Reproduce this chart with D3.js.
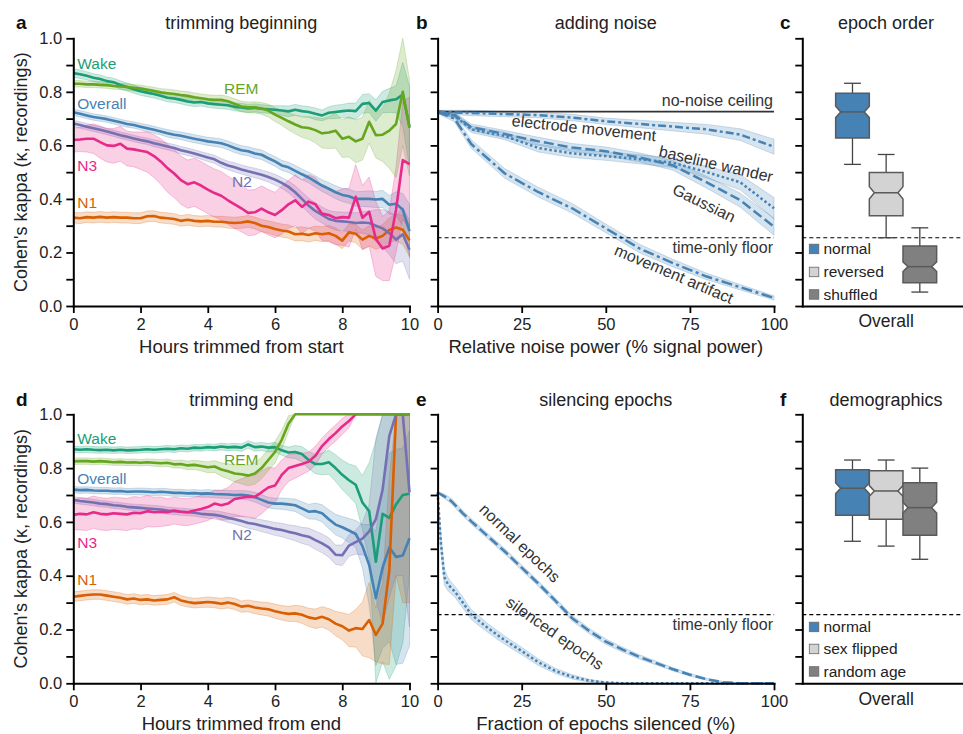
<!DOCTYPE html>
<html><head><meta charset="utf-8">
<script src="https://cdn.jsdelivr.net/npm/d3@7"></script>
<style>body{margin:0;background:#fff}svg{display:block}</style>
</head><body><svg id="c" width="963" height="734"></svg>
<script>
// ---------------- DATA ----------------
const hours = [0,0.2,0.4,0.6,0.8,1,1.2,1.4,1.6,1.8,2,2.2,2.4,2.6,2.8,3,3.2,3.4,3.6,3.8,4,4.2,4.4,4.6,4.8,5,5.2,5.4,5.6,5.8,6,6.2,6.4,6.6,6.8,7,7.2,7.4,7.6,7.8,8,8.2,8.4,8.6,8.8,9,9.2,9.4,9.6,9.8,10];
const yTicks = [0,0.1,0.2,0.3,0.4,0.5,0.6,0.7,0.8,0.9,1.0];
const hourTicks = [0,2,4,6,8,10];
const pctTicks = [0,25,50,75,100];
const stageNames = ["Overall","Wake","N1","N2","N3","REM"];
const stageColors = ["#4682b4","#1b9e77","#d95f02","#7570b3","#e7298a","#66a61e"];

// panel a: trimming beginning
const aOverall = [0.724,0.718,0.712,0.706,0.702,0.698,0.692,0.686,0.680,0.676, 0.670,0.664,0.658,0.652,0.645,0.640,0.636,0.630,0.625,0.620, 0.615,0.612,0.608,0.600,0.590,0.582,0.578,0.570,0.565,0.552, 0.540,0.525,0.518,0.505,0.492,0.480,0.465,0.450,0.438,0.425, 0.415,0.410,0.400,0.400,0.400,0.398,0.400,0.378,0.382,0.360, 0.280];
const aOverallCI = [0.012,0.012,0.012,0.012,0.012,0.012,0.012,0.012,0.012,0.012, 0.012,0.013,0.013,0.013,0.014,0.014,0.014,0.015,0.015,0.015, 0.015,0.016,0.016,0.016,0.017,0.017,0.017,0.018,0.018,0.018, 0.018,0.019,0.019,0.020,0.020,0.020,0.021,0.022,0.023,0.024, 0.025,0.026,0.027,0.028,0.030,0.030,0.032,0.035,0.045,0.060, 0.100];
const aWake = [0.870,0.866,0.860,0.853,0.848,0.840,0.836,0.826,0.818,0.810, 0.802,0.797,0.792,0.785,0.778,0.775,0.770,0.764,0.760,0.762, 0.757,0.754,0.752,0.750,0.744,0.742,0.738,0.740,0.737,0.735, 0.733,0.730,0.727,0.733,0.728,0.725,0.718,0.712,0.722,0.725, 0.728,0.730,0.728,0.755,0.758,0.730,0.762,0.768,0.772,0.790, 0.670];
const aWakeCI = [0.016,0.016,0.015,0.015,0.015,0.015,0.015,0.015,0.015,0.015, 0.015,0.015,0.015,0.015,0.015,0.015,0.015,0.015,0.015,0.015, 0.015,0.015,0.015,0.015,0.015,0.015,0.015,0.015,0.015,0.015, 0.015,0.018,0.020,0.020,0.020,0.020,0.022,0.020,0.022,0.025, 0.025,0.028,0.030,0.035,0.035,0.040,0.040,0.045,0.050,0.120, 0.150];
const aN1 = [0.330,0.328,0.332,0.330,0.333,0.330,0.332,0.330,0.330,0.328, 0.328,0.335,0.336,0.330,0.328,0.325,0.318,0.322,0.318,0.316, 0.318,0.315,0.315,0.312,0.310,0.312,0.316,0.310,0.300,0.295, 0.288,0.282,0.278,0.268,0.270,0.265,0.272,0.268,0.272,0.262, 0.244,0.275,0.270,0.248,0.262,0.252,0.262,0.284,0.293,0.285, 0.245];
const aN1CI = [0.020,0.020,0.020,0.020,0.020,0.020,0.020,0.020,0.020,0.020, 0.020,0.020,0.020,0.020,0.020,0.020,0.020,0.020,0.020,0.020, 0.020,0.020,0.020,0.021,0.021,0.022,0.022,0.022,0.023,0.023, 0.024,0.024,0.025,0.025,0.026,0.026,0.027,0.028,0.029,0.030, 0.030,0.032,0.034,0.036,0.038,0.040,0.042,0.045,0.050,0.055, 0.060];
const aN2 = [0.682,0.676,0.670,0.664,0.658,0.652,0.645,0.638,0.632,0.626, 0.620,0.615,0.608,0.602,0.596,0.590,0.582,0.576,0.570,0.562, 0.555,0.548,0.535,0.525,0.518,0.510,0.503,0.497,0.490,0.482, 0.472,0.460,0.445,0.425,0.400,0.375,0.355,0.340,0.325,0.318, 0.316,0.314,0.310,0.312,0.310,0.300,0.290,0.272,0.248,0.268, 0.210];
const aN2CI = [0.012,0.012,0.012,0.012,0.012,0.012,0.012,0.012,0.012,0.012, 0.012,0.012,0.013,0.013,0.013,0.013,0.014,0.014,0.014,0.014, 0.015,0.015,0.016,0.016,0.017,0.017,0.017,0.018,0.018,0.019, 0.020,0.020,0.022,0.024,0.026,0.028,0.030,0.030,0.032,0.034, 0.035,0.036,0.038,0.040,0.045,0.060,0.070,0.080,0.090,0.100, 0.110];
const aN3 = [0.620,0.622,0.625,0.625,0.612,0.600,0.598,0.606,0.588,0.585, 0.580,0.575,0.560,0.540,0.515,0.495,0.470,0.455,0.462,0.450, 0.435,0.422,0.412,0.395,0.380,0.365,0.348,0.350,0.364,0.350, 0.340,0.358,0.380,0.395,0.370,0.390,0.380,0.345,0.340,0.328, 0.332,0.330,0.408,0.330,0.352,0.250,0.215,0.225,0.360,0.545, 0.530];
const aN3CI = [0.045,0.045,0.050,0.055,0.060,0.062,0.065,0.065,0.065,0.065, 0.070,0.075,0.080,0.085,0.090,0.090,0.090,0.090,0.090,0.090, 0.090,0.090,0.090,0.090,0.090,0.088,0.085,0.085,0.085,0.085, 0.085,0.090,0.090,0.095,0.100,0.100,0.100,0.100,0.100,0.100, 0.105,0.110,0.120,0.120,0.130,0.140,0.120,0.130,0.160,0.220, 0.250];
const aRem = [0.830,0.830,0.828,0.828,0.826,0.825,0.822,0.820,0.818,0.815, 0.812,0.808,0.803,0.798,0.795,0.792,0.788,0.785,0.780,0.776, 0.772,0.770,0.770,0.765,0.755,0.745,0.742,0.742,0.738,0.730, 0.715,0.703,0.690,0.678,0.668,0.665,0.657,0.645,0.648,0.655, 0.625,0.632,0.615,0.625,0.688,0.638,0.640,0.655,0.680,0.800, 0.665];
const aRemCI = [0.012,0.012,0.012,0.012,0.012,0.012,0.012,0.012,0.012,0.012, 0.013,0.013,0.014,0.014,0.015,0.015,0.015,0.016,0.016,0.016, 0.017,0.017,0.018,0.018,0.019,0.020,0.020,0.021,0.022,0.024, 0.026,0.028,0.032,0.035,0.038,0.042,0.048,0.055,0.060,0.065, 0.070,0.075,0.080,0.080,0.080,0.085,0.100,0.140,0.200,0.200, 0.180];

// panel d: trimming end
const dOverall = [0.720,0.718,0.719,0.717,0.716,0.716,0.714,0.715,0.712,0.713, 0.713,0.712,0.710,0.712,0.710,0.708,0.708,0.706,0.707,0.705, 0.706,0.704,0.703,0.702,0.700,0.701,0.698,0.692,0.682,0.672, 0.668,0.668,0.665,0.662,0.650,0.638,0.640,0.632,0.610,0.590, 0.580,0.568,0.555,0.510,0.440,0.316,0.430,0.505,0.470,0.475, 0.539];
const dOverallCI = [0.012,0.012,0.012,0.012,0.012,0.012,0.012,0.012,0.012,0.012, 0.013,0.013,0.013,0.013,0.013,0.013,0.013,0.013,0.013,0.013, 0.014,0.014,0.015,0.015,0.016,0.016,0.017,0.018,0.019,0.020, 0.020,0.021,0.022,0.023,0.025,0.027,0.030,0.032,0.035,0.038, 0.040,0.045,0.050,0.080,0.150,0.250,0.300,0.350,0.400,0.400, 0.400];
const dWake = [0.870,0.868,0.870,0.868,0.867,0.868,0.866,0.868,0.866,0.867, 0.868,0.870,0.868,0.870,0.872,0.870,0.874,0.872,0.876,0.875, 0.878,0.876,0.880,0.877,0.879,0.876,0.888,0.878,0.880,0.876, 0.878,0.866,0.858,0.860,0.852,0.830,0.815,0.815,0.822,0.800, 0.775,0.755,0.738,0.672,0.640,0.452,0.630,0.615,0.665,0.700, 0.705];
const dWakeCI = [0.012,0.012,0.012,0.012,0.012,0.012,0.012,0.012,0.012,0.012, 0.012,0.012,0.012,0.012,0.012,0.012,0.012,0.012,0.012,0.012, 0.012,0.012,0.013,0.013,0.013,0.014,0.014,0.015,0.015,0.016, 0.017,0.018,0.020,0.024,0.028,0.032,0.036,0.040,0.045,0.050, 0.055,0.060,0.070,0.100,0.180,0.450,0.550,0.600,0.600,0.550, 0.300];
const dN1 = [0.322,0.325,0.328,0.330,0.330,0.326,0.322,0.318,0.312,0.315, 0.310,0.312,0.308,0.310,0.312,0.320,0.308,0.302,0.298,0.300, 0.302,0.300,0.296,0.300,0.295,0.285,0.288,0.282,0.278,0.275, 0.268,0.262,0.258,0.260,0.255,0.245,0.240,0.247,0.238,0.222, 0.212,0.196,0.205,0.202,0.235,0.180,0.222,0.420,1.000,1.000, 1.000];
const dN1CI = [0.018,0.018,0.018,0.018,0.018,0.018,0.018,0.018,0.018,0.018, 0.018,0.018,0.018,0.018,0.018,0.018,0.018,0.018,0.018,0.018, 0.019,0.019,0.020,0.020,0.021,0.021,0.022,0.023,0.024,0.025, 0.026,0.027,0.028,0.030,0.032,0.034,0.036,0.038,0.040,0.045, 0.050,0.060,0.070,0.100,0.140,0.100,0.150,0.350,0.600,0.700, 0.700];
const dN2 = [0.682,0.678,0.675,0.672,0.668,0.666,0.662,0.660,0.656,0.654, 0.652,0.650,0.648,0.646,0.642,0.640,0.638,0.636,0.634,0.630, 0.628,0.626,0.622,0.615,0.610,0.603,0.596,0.592,0.586,0.580, 0.574,0.570,0.563,0.558,0.550,0.545,0.532,0.520,0.505,0.478, 0.476,0.512,0.525,0.538,0.565,0.610,0.720,0.920,1.000,1.000, 0.710];
const dN2CI = [0.012,0.012,0.012,0.012,0.012,0.012,0.012,0.012,0.012,0.012, 0.013,0.013,0.013,0.013,0.013,0.013,0.013,0.013,0.013,0.013, 0.014,0.015,0.016,0.017,0.018,0.019,0.020,0.021,0.022,0.023, 0.024,0.025,0.026,0.028,0.030,0.032,0.034,0.035,0.036,0.036, 0.038,0.040,0.045,0.060,0.100,0.300,0.500,0.600,0.600,0.600, 0.500];
const dN3 = [0.626,0.630,0.628,0.636,0.630,0.628,0.632,0.630,0.628,0.634, 0.632,0.640,0.636,0.638,0.636,0.642,0.638,0.636,0.642,0.648, 0.655,0.668,0.662,0.668,0.685,0.690,0.694,0.693,0.710,0.728, 0.735,0.775,0.800,0.808,0.815,0.824,0.846,0.882,0.908,0.930, 0.955,0.975,1.000,1.000,1.000,1.000,1.000,1.000,1.000,1.000, 1.000];
const dN3CI = [0.055,0.060,0.060,0.060,0.060,0.060,0.060,0.060,0.060,0.060, 0.060,0.058,0.055,0.055,0.050,0.050,0.050,0.050,0.050,0.050, 0.050,0.050,0.055,0.060,0.065,0.070,0.075,0.080,0.080,0.075, 0.065,0.055,0.050,0.045,0.040,0.035,0.035,0.030,0.030,0.030, 0.030,0.025,0,0,0,0,0,0,0,0, 0];
const dRem = [0.825,0.826,0.826,0.824,0.826,0.824,0.822,0.823,0.821,0.822, 0.820,0.822,0.820,0.818,0.820,0.814,0.815,0.810,0.812,0.808, 0.803,0.806,0.795,0.788,0.780,0.777,0.772,0.780,0.800,0.830, 0.860,0.905,0.965,1.000,1.000,1.000,1.000,1.000,1.000,1.000, 1.000,1.000,1.000,1.000,1.000,1.000,1.000,1.000,1.000,1.000, 1.000];
const dRemCI = [0.012,0.012,0.012,0.012,0.012,0.012,0.012,0.012,0.012,0.012, 0.012,0.012,0.013,0.013,0.014,0.014,0.015,0.016,0.017,0.018, 0.020,0.022,0.025,0.028,0.032,0.035,0.038,0.040,0.040,0.040, 0.040,0.035,0.030,0,0,0,0,0,0,0, 0,0,0,0,0,0,0,0,0,0, 0];

// panel b: adding noise
const noisePct = [0,5,10,20,30,40,50,60,70,80,90,100];
const electrodeMove = [0.725,0.723,0.721,0.717,0.713,0.704,0.690,0.680,0.670,0.660,0.640,0.595];
const electrodeMoveCI = [0.006,0.008,0.010,0.010,0.010,0.012,0.012,0.014,0.016,0.018,0.022,0.028];
const baselineWander = [0.725,0.712,0.660,0.635,0.590,0.570,0.560,0.548,0.535,0.500,0.462,0.365];
const baselineWanderCI = [0.006,0.010,0.012,0.014,0.015,0.015,0.016,0.017,0.018,0.022,0.028,0.040];
const gaussianNoise = [0.725,0.713,0.668,0.642,0.615,0.592,0.578,0.555,0.525,0.462,0.395,0.296];
const gaussianNoiseCI = [0.006,0.010,0.012,0.014,0.015,0.015,0.016,0.017,0.018,0.022,0.026,0.032];
const movementArtifact = [0.725,0.700,0.605,0.495,0.425,0.365,0.290,0.215,0.160,0.110,0.070,0.030];
const movementArtifactCI = [0.006,0.012,0.016,0.018,0.018,0.018,0.016,0.016,0.014,0.012,0.010,0.008];
const noNoiseCeiling = 0.726;
const timeOnlyFloor = 0.255;

// panel e: silencing epochs
const silencedPct = [0,1,2,3,4,5,7.5,10,12.5,15,17.5,20,25,30,35,40,45,50,55,60,65,70,75,80,85,90,95,100];
const normalEpochs = [0.710,0.702,0.695,0.687,0.678,0.665,0.632,0.602,0.574,0.546,0.518,0.490,0.430,0.370,0.307,0.242,0.195,0.155,0.125,0.098,0.075,0.052,0.032,0.015,0.004,0,0,0];
const normalEpochsCI = [0,0.006,0.008,0.009,0.010,0.010,0.010,0.010,0.010,0.010,0.010,0.010,0.010,0.010,0.010,0.010,0.010,0.010,0.009,0.008,0.007,0.006,0.005,0.004,0.003,0,0,0];
const silencedEpochs = [0.710,0.520,0.395,0.370,0.355,0.343,0.300,0.256,0.230,0.205,0.182,0.160,0.120,0.078,0.046,0.024,0.010,0.003,0,0,0,0,0,0,0,0,0,0];
const silencedEpochsCI = [0,0.030,0.030,0.025,0.022,0.020,0.020,0.018,0.018,0.016,0.016,0.015,0.014,0.012,0.010,0.008,0.005,0.002,0,0,0,0,0,0,0,0,0,0];

// panel c: epoch order (box stats)
const orderHues = ["normal","reversed","shuffled"];
const orderWhiskLo = [0.529,0.255,0.052];
const orderQ1 = [0.628,0.337,0.087];
const orderMedian = [0.725,0.423,0.147];
const orderQ3 = [0.795,0.499,0.224];
const orderWhiskHi = [0.832,0.566,0.292];
const orderNotch = [0.021,0.023,0.018];
// panel f: demographics
const demoHues = ["normal","sex flipped","random age"];
const demoWhiskLo = [0.528,0.510,0.461];
const demoQ1 = [0.625,0.610,0.550];
const demoMedian = [0.725,0.715,0.653];
const demoQ3 = [0.794,0.790,0.746];
const demoWhiskHi = [0.830,0.830,0.800];
const demoNotch = [0.020,0.020,0.020];
const boxColors = ["#4682b4","#d3d3d3","#808080"];
const boxCategory = ["Overall"];

// ---------------- DRAWING ----------------
const FONT = '"Liberation Sans", Arial, Helvetica, sans-serif';
const svg = d3.select("#c").attr("font-family", FONT);
const rows = [{top:38.3, bot:306}, {top:414.3, bot:683.3}];
const COL_A = [73.3, 409.5], COL_B = [437.6, 774], COL_C = [802.3, 975];
const BLUE = "#4682b4";
const LABEL_SIZE = 18.5, TITLE_SIZE = 18, ANNOT_SIZE = 16;

function styleAxis(a){
  a.attr("font-family", FONT);
  a.select(".domain").attr("stroke","#000").attr("stroke-width",2).attr("stroke-linecap","square");
  a.selectAll(".tick line").attr("stroke","#000").attr("stroke-width",1.8);
  a.selectAll(".tick text").attr("font-size",16.5).attr("fill","#222");
}
function yAxis(g, y, x0, withLabels){
  const a = g.append("g").attr("transform",`translate(${x0},0)`)
    .call(d3.axisLeft(y).tickValues(yTicks).tickSize(7).tickSizeOuter(0).tickPadding(4)
      .tickFormat(d => withLabels && Math.round(d*10)%2===0 ? d3.format(".1f")(d) : ""));
  styleAxis(a);
}
function xAxisLin(g, x, yb, ticks){
  const a = g.append("g").attr("transform",`translate(0,${yb})`)
    .call(d3.axisBottom(x).tickValues(ticks).tickSize(7).tickSizeOuter(0).tickPadding(5));
  styleAxis(a);
}
function text(t, x, y, o={}){
  const el = svg.append("text").attr("x",x).attr("y",y).text(t)
    .attr("font-size", o.size||17).attr("fill", o.fill||"#222")
    .attr("text-anchor", o.anchor||"middle");
  if (o.weight) el.attr("font-weight", o.weight);
  if (o.rotate!==undefined) el.attr("transform", `rotate(${o.rotate},${x},${y})`);
  if (o.dy) el.attr("dy", o.dy);
  return el;
}
function header(letter, lx, title, tx, row){
  const base = row===0 ? 28.5 : 405.5;
  text(letter, lx, base+0.5, {size:19, weight:"bold", anchor:"start", fill:"#111"});
  text(title, tx, base, {size:TITLE_SIZE});
}
function drawSeries(g, x, y, xs, means, cis, color, lw, dash){
  const data = xs.map((v,i)=>({x:v, m:means[i], c:cis[i]}));
  const area = d3.area().x(d=>x(d.x))
    .y0(d=>y(Math.max(0, d.m-d.c))).y1(d=>y(Math.min(1, d.m+d.c)));
  g.append("path").datum(data).attr("d", area)
    .attr("fill", color).attr("fill-opacity", 0.22)
    .attr("stroke", color).attr("stroke-opacity", 0.25).attr("stroke-width", 1);
  return () => {
    const p = g.append("path").datum(data).attr("d", d3.line().x(d=>x(d.x)).y(d=>y(d.m)))
      .attr("fill","none").attr("stroke", color).attr("stroke-width", lw).attr("stroke-linejoin","round");
    if (dash) p.attr("stroke-dasharray", dash);
  };
}
function rotLabel(t, cx, cy, ang){
  svg.append("text").text(t).attr("font-size",ANNOT_SIZE).attr("fill","#333").attr("text-anchor","middle")
    .attr("dy","0.35em").attr("transform",`translate(${cx},${cy}) rotate(${ang})`);
}

// ---- Stage panels (a, d)
function stagePanel(row, seriesMeans, seriesCIs, xLabel, labelPos){
  const r = rows[row];
  const x = d3.scaleLinear().domain([0,10]).range(COL_A);
  const y = d3.scaleLinear().domain([0,1]).range([r.bot, r.top]);
  const g = svg.append("g");
  const gd = g.append("g");
  const drawers = seriesMeans.map((m,i)=> drawSeries(gd, x, y, hours, m, seriesCIs[i], stageColors[i], 2.6));
  drawers.forEach(f=>f());
  xAxisLin(g, x, r.bot, hourTicks);
  yAxis(g, y, COL_A[0], true);
  text(xLabel, (COL_A[0]+COL_A[1])/2, r.bot+47, {size:LABEL_SIZE});
  text("Cohen's kappa (\u03ba, recordings)", 27, (r.top+r.bot)/2, {size:18, rotate:-90});
  stageNames.forEach((n,i)=>{
    const [px, py] = labelPos[n];
    text(n, px, py, {size:15.5, anchor:"start", fill:stageColors[i], dy:"0.35em"});
  });
}
stagePanel(0, [aOverall,aWake,aN1,aN2,aN3,aRem], [aOverallCI,aWakeCI,aN1CI,aN2CI,aN3CI,aRemCI],
  "Hours trimmed from start",
  {Wake:[77.3,63.5], REM:[224,88.5], Overall:[77.3,104], N3:[77.3,166], N2:[232,182], N1:[77.3,203]});
stagePanel(1, [dOverall,dWake,dN1,dN2,dN3,dRem], [dOverallCI,dWakeCI,dN1CI,dN2CI,dN3CI,dRemCI],
  "Hours trimmed from end",
  {Wake:[77.3,438.5], REM:[224,459.5], Overall:[77.3,478.5], N3:[77.3,542.5], N2:[232,534.5], N1:[77.3,580]});
header("a", 16, "trimming beginning", 241.2, 0);
header("d", 16, "trimming end", 241.2, 1);

// ---- Panel b
(function(){
  const r = rows[0];
  const x = d3.scaleLinear().domain([0,100]).range(COL_B);
  const y = d3.scaleLinear().domain([0,1]).range([r.bot, r.top]);
  const g = svg.append("g");
  const series = [[electrodeMove,electrodeMoveCI,"8,3,3,3"],[baselineWander,baselineWanderCI,"2.5,2.5"],
                  [gaussianNoise,gaussianNoiseCI,"10,4"],[movementArtifact,movementArtifactCI,"11,3.5,3,3.5"]];
  const dr = series.map(s=>drawSeries(g, x, y, noisePct, s[0], s[1], BLUE, 2.5, s[2]));
  g.append("line").attr("x1",x(0)).attr("x2",x(100)).attr("y1",y(noNoiseCeiling)).attr("y2",y(noNoiseCeiling))
    .attr("stroke","#333").attr("stroke-width",1.6);
  dr.forEach(f=>f());
  g.append("line").attr("x1",x(0)).attr("x2",x(100)).attr("y1",y(timeOnlyFloor)).attr("y2",y(timeOnlyFloor))
    .attr("stroke","#000").attr("stroke-width",1.2).attr("stroke-dasharray","4,3");
  xAxisLin(g, x, r.bot, pctTicks);
  yAxis(g, y, COL_B[0], false);
  text("Relative noise power (% signal power)", (COL_B[0]+COL_B[1])/2, r.bot+47, {size:LABEL_SIZE});
  text("no-noise ceiling", 773, y(noNoiseCeiling)-6, {size:ANNOT_SIZE, anchor:"end", fill:"#333"});
  text("time-only floor", 773, y(timeOnlyFloor)+10, {size:ANNOT_SIZE, anchor:"end", fill:"#333", dy:"0.35em"});
  rotLabel("electrode movement", 584, 128, 6);
  rotLabel("baseline wander", 716, 164, 13);
  rotLabel("Gaussian", 704, 203, 26);
  rotLabel("movement artifact", 674, 274, 23);
  header("b", 416, "adding noise", 605.7, 0);
})();

// ---- Panel e
(function(){
  const r = rows[1];
  const x = d3.scaleLinear().domain([0,100]).range(COL_B);
  const y = d3.scaleLinear().domain([0,1]).range([r.bot, r.top]);
  const g = svg.append("g");
  const d1 = drawSeries(g, x, y, silencedPct, normalEpochs, normalEpochsCI, BLUE, 2.5, "10,4");
  const d2 = drawSeries(g, x, y, silencedPct, silencedEpochs, silencedEpochsCI, BLUE, 2.5, "2.5,2.5");
  d1(); d2();
  g.append("line").attr("x1",x(0)).attr("x2",x(100)).attr("y1",y(timeOnlyFloor)).attr("y2",y(timeOnlyFloor))
    .attr("stroke","#000").attr("stroke-width",1.2).attr("stroke-dasharray","4,3");
  xAxisLin(g, x, r.bot, pctTicks);
  yAxis(g, y, COL_B[0], false);
  text("Fraction of epochs silenced (%)", (COL_B[0]+COL_B[1])/2, r.bot+47, {size:LABEL_SIZE});
  text("time-only floor", 773, y(timeOnlyFloor)+10, {size:ANNOT_SIZE, anchor:"end", fill:"#333", dy:"0.35em"});
  rotLabel("normal epochs", 520, 543, 44);
  rotLabel("silenced epochs", 555, 633, 35);
  header("e", 416, "silencing epochs", 605.7, 1);
})();

// ---- Box panels (c, f)
function boxPanel(row, hues, lo, q1, med, q3, hi, notch, legendY, letter, title){
  const r = rows[row];
  const y = d3.scaleLinear().domain([0,1]).range([r.bot, r.top]);
  const xb = d3.scaleBand().domain(boxCategory).range([COL_C[0], 970]).padding(0);
  const cx0 = xb("Overall") + xb.bandwidth()/2;
  const xh = d3.scaleBand().domain(hues).range([cx0-50.5, cx0+50.5]).padding(0);
  const g = svg.append("g");
  g.append("line").attr("x1",COL_C[0]).attr("x2",963).attr("y1",y(timeOnlyFloor)).attr("y2",y(timeOnlyFloor))
    .attr("stroke","#000").attr("stroke-width",1.2).attr("stroke-dasharray","4,3");
  hues.forEach((h,i)=>{
    const w = xh.bandwidth(), cx = xh(h)+w/2, L = cx-w/2, R = cx+w/2, ins = w*0.15;
    const wc = "#444";
    g.append("line").attr("x1",cx).attr("x2",cx).attr("y1",y(q3[i])).attr("y2",y(hi[i])).attr("stroke",wc).attr("stroke-width",1.3);
    g.append("line").attr("x1",cx).attr("x2",cx).attr("y1",y(q1[i])).attr("y2",y(lo[i])).attr("stroke",wc).attr("stroke-width",1.3);
    g.append("line").attr("x1",cx-w/4).attr("x2",cx+w/4).attr("y1",y(hi[i])).attr("y2",y(hi[i])).attr("stroke",wc).attr("stroke-width",1.3);
    g.append("line").attr("x1",cx-w/4).attr("x2",cx+w/4).attr("y1",y(lo[i])).attr("y2",y(lo[i])).attr("stroke",wc).attr("stroke-width",1.3);
    const pts = [[L,y(q1[i])],[L,y(med[i]-notch[i])],[L+ins,y(med[i])],[L,y(med[i]+notch[i])],[L,y(q3[i])],
                 [R,y(q3[i])],[R,y(med[i]+notch[i])],[R-ins,y(med[i])],[R,y(med[i]-notch[i])],[R,y(q1[i])]];
    g.append("polygon").attr("points", pts.map(p=>p.join(",")).join(" "))
      .attr("fill", boxColors[i]).attr("stroke","#5a5a5a").attr("stroke-width",1.5).attr("stroke-linejoin","miter");
    g.append("line").attr("x1",L+ins).attr("x2",R-ins).attr("y1",y(med[i])).attr("y2",y(med[i]))
      .attr("stroke","#5a5a5a").attr("stroke-width",1.5);
  });
  const xa = g.append("g").attr("transform",`translate(0,${r.bot})`)
    .call(d3.axisBottom(xb).tickSize(0).tickSizeOuter(0).tickPadding(9));
  styleAxis(xa);
  xa.selectAll(".tick text").attr("font-size",17.5);
  yAxis(g, y, COL_C[0], false);
  hues.forEach((h,i)=>{
    g.append("rect").attr("x",809.3).attr("y",legendY[i]-4.8).attr("width",9.5).attr("height",9.5)
      .attr("fill",boxColors[i]).attr("stroke","#666").attr("stroke-width",0.8);
    g.append("text").attr("x",823.5).attr("y",legendY[i]).attr("dy","0.35em").text(h)
      .attr("font-size",15.5).attr("fill","#222");
  });
  header(letter, 780, title, 886, row);
}
boxPanel(0, orderHues, orderWhiskLo, orderQ1, orderMedian, orderQ3, orderWhiskHi, orderNotch, [249,272,294.5], "c", "epoch order");
boxPanel(1, demoHues, demoWhiskLo, demoQ1, demoMedian, demoQ3, demoWhiskHi, demoNotch, [627,649,671.5], "f", "demographics");
</script></body></html>
